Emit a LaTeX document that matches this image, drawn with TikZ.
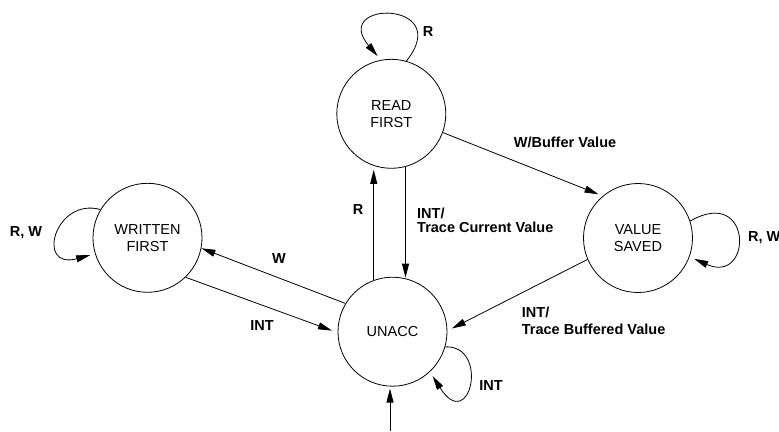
\documentclass[tikz,border=0pt]{standalone}
\usepackage{fontspec}
\setmainfont{Liberation Sans}
\usetikzlibrary{arrows.meta}
\begin{document}
\begin{tikzpicture}[x=1pt,y=-1pt,
  state/.style={circle,draw,line width=0.8pt,minimum size=109pt,inner sep=0pt,align=center,font=\fontsize{14.5}{17}\selectfont},
  lbl/.style={font=\bfseries\fontsize{14.5}{14.5}\selectfont,inner sep=0pt},
  edge/.style={line width=0.8pt,-{Triangle[length=14pt,width=7pt]}}]
\useasboundingbox (0,0) rectangle (779,431);
\node[state] (RF) at (391.3,113.8) {READ\\FIRST};
\node[state] (WF) at (147.5,237.8) {WRITTEN\\FIRST};
\node[state] (UN) at (392.5,331.7) {UNACC};
\node[state] (VS) at (638,238) {VALUE\\SAVED};
\coordinate (init) at (390,431);
% transitions
\draw[edge,shorten >=4.5pt] (RF.-20) -- (VS.130);
\draw[edge,shorten >=1pt] (RF.-75) -- (RF.-75 |- UN.75);
\draw[edge,shorten >=3.5pt] (UN.110) -- (UN.110 |- RF.-107);
\draw[edge] (UN.149) -- (WF.-11);
\draw[edge,shorten >=6pt] (WF.-46) -- (UN.181.5);
\draw[edge,shorten >=5pt] (VS.203) -- (UN.1);
\draw[edge,shorten >=2pt] (init) -- (init |- UN.south);
% self loops
\draw[edge,shorten >=5pt] (RF.74) .. controls (455,0) and (330,0) .. (RF.101);
\draw[edge,shorten >=5pt] (WF.149) .. controls (55,197) and (35,270) .. (WF.197);
\draw[edge,shorten >=5pt] (VS.18.5) .. controls (753,185) and (753,285) .. (VS.-20);
\draw[edge,shorten >=5pt] (UN.-16) .. controls (490,345) and (470,435) .. (UN.-47);
% labels
\node[lbl] (lR1) at (428,32) {R};
\node[lbl] (lWB) at (565,142) {W/Buffer Value};
\node[lbl,align=left,anchor=west] (lTC) at (417,220.5) {INT/\\Trace Current Value};
\node[lbl,align=left,anchor=west,font=\bfseries\fontsize{14.5}{17.3}\selectfont] (lTB) at (521.7,320.8) {INT/\\Trace Buffered Value};
\node[lbl] (lR2) at (358,210) {R};
\node[lbl] (lW) at (279,259) {W};
\node[lbl] (lI1) at (262,326) {INT};
\node[lbl] (lRW1) at (26,233) {R, W};
\node[lbl,anchor=west] (lRW2) at (748,237.5) {R, W};
\node[lbl] (lI2) at (491,385.5) {INT};
\end{tikzpicture}
\end{document}
